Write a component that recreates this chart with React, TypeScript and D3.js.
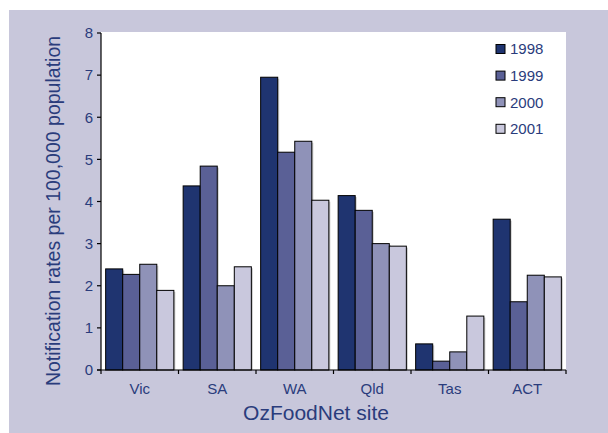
import React from "react";
import * as d3 from "d3";

const categories = ["Vic", "SA", "WA", "Qld", "Tas", "ACT"];
const years = ["1998", "1999", "2000", "2001"];
const values1998 = [2.4, 4.37, 6.95, 4.14, 0.62, 3.58];
const values1999 = [2.27, 4.84, 5.17, 3.79, 0.21, 1.62];
const values2000 = [2.51, 2.0, 5.43, 3.0, 0.43, 2.25];
const values2001 = [1.89, 2.45, 4.03, 2.94, 1.28, 2.21];
const yTicks = [0, 1, 2, 3, 4, 5, 6, 7, 8];

const seriesValues = [values1998, values1999, values2000, values2001];
const colors = ["#1F3470", "#5A6096", "#8F92B8", "#C9C8DD"];
const textColor = "#2A3C7C";
const font = "'Liberation Sans', Arial, sans-serif";

export default function App() {
  const W = 608, H = 433;
  const left = 101, right = 566, top = 32, bottom = 370;
  const x = d3.scaleBand<string>().domain(categories).range([left, right]).paddingInner(0.12).paddingOuter(0.06);
  const xs = d3.scaleBand<string>().domain(years).range([0, x.bandwidth()]).padding(0);
  const y = d3.scaleLinear().domain([0, 8]).range([bottom, 33]);
  const step = (right - left) / categories.length;

  return (
    <svg width={W} height={H} style={{ position: "absolute", left: 0, top: 0 }}>
      <rect x={0} y={0} width={W} height={H} fill="#fff" />
      <rect x={9} y={10} width={W - 9} height={H - 10} fill="#C8C7DB" />
      <rect x={left} y={top} width={right - left} height={bottom - top} fill="#fff" />
      {categories.map((c, ci) =>
        years.map((yr, si) => {
          const v = seriesValues[si][ci];
          const bx = (x(c) as number) + (xs(yr) as number);
          const by = y(v);
          const bw = xs.bandwidth();
          return (
            <g key={c + yr}>
              <rect x={bx + 1.5} y={by + 1.5} width={bw} height={bottom - by - 1.5} fill="#8a8a8a" opacity={0.45} />
              <rect x={bx} y={by} width={bw} height={bottom - by} fill={colors[si]} stroke="#000" strokeWidth={1} />
            </g>
          );
        })
      )}
      {/* y axis */}
      <line x1={left} x2={left} y1={33} y2={bottom} stroke="#000" strokeWidth={1.2} />
      {yTicks.map((t) => (
        <g key={t}>
          <line x1={left - 4} x2={left} y1={y(t)} y2={y(t)} stroke="#000" strokeWidth={1.2} />
          <text x={left - 8} y={y(t)} dy="0.35em" textAnchor="end" fontFamily={font} fontSize={15} fill={textColor}>
            {t}
          </text>
        </g>
      ))}
      {/* x axis */}
      <line x1={left - 4} x2={right} y1={bottom} y2={bottom} stroke="#000" strokeWidth={1.2} />
      {d3.range(categories.length + 1).map((i) => (
        <line key={i} x1={left + i * step} x2={left + i * step} y1={bottom} y2={bottom + 4} stroke="#000" strokeWidth={1.2} />
      ))}
      {categories.map((c) => (
        <text key={c} x={(x(c) as number) + x.bandwidth() / 2} y={394} textAnchor="middle" fontFamily={font} fontSize={15} fill={textColor}>
          {c}
        </text>
      ))}
      <text x={316} y={420} textAnchor="middle" fontFamily={font} fontSize={21} fill={textColor}>
        OzFoodNet site
      </text>
      <text transform={`translate(60,${211}) rotate(-90)`} textAnchor="middle" fontFamily={font} fontSize={19.5} fill={textColor}>
        Notification rates per 100,000 population
      </text>
      {/* legend */}
      {years.map((yr, i) => (
        <g key={yr} transform={`translate(496,${49 + i * 26.6})`}>
          <rect x={0} y={-4.5} width={9} height={9} fill={colors[i]} stroke="#000" strokeWidth={1} />
          <text x={14} y={0} dy="0.36em" fontFamily={font} fontSize={15} fill={textColor}>
            {yr}
          </text>
        </g>
      ))}
    </svg>
  );
}
